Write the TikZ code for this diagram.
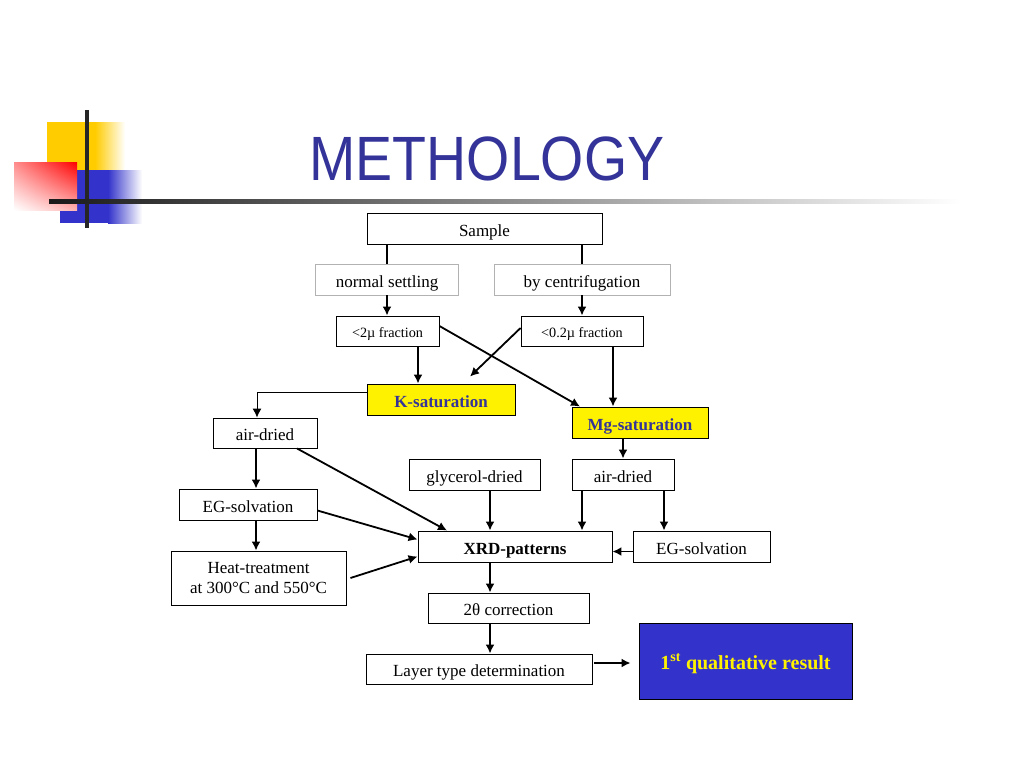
\documentclass[tikz,border=0pt]{standalone}
\usepackage{fontspec}
\setmainfont{Liberation Serif}
\newfontfamily\titlefont[FakeStretch=0.887]{Liberation Sans}
\usetikzlibrary{arrows.meta,shadings}
\definecolor{titleblue}{RGB}{51,51,153}
\definecolor{resblue}{RGB}{51,51,204}
\definecolor{gold}{RGB}{255,204,0}
\definecolor{decoblue}{RGB}{51,51,204}
\tikzset{
  plain/.style={draw, line width=0.9pt, fill=white, inner sep=0pt, align=center,
    font=\fontsize{17}{20.5}\selectfont},
  box/.style={plain, text height=15pt, text depth=0pt},
  graybox/.style={box, draw=black!30},
  smallbox/.style={box, text height=12.5pt, font=\fontsize{14.2}{17}\selectfont},
  satbox/.style={box, fill=yellow, text=titleblue, font=\bfseries\fontsize{17}{20.5}\selectfont},
  resbox/.style={box, text height=17pt, fill=resblue, text=yellow, font=\bfseries\fontsize{20}{24}\selectfont},
  arr/.style={draw, line width=1.8pt, -{Latex[length=9pt,width=9pt]}}
}
\begin{document}
\begin{tikzpicture}[x=1pt,y=-1pt]
        \useasboundingbox[fill=white] (0,0) rectangle (1024,768);

        % corner decoration
        \fill[gold] (47,122) rectangle (95,170);
        \shade[left color=gold, right color=white] (95,122) rectangle (125,170);
        \fill[decoblue] (60,170) rectangle (108,223);
        \shade[left color=decoblue, right color=white] (108,170) rectangle (142,223);
        \shade[upper left=red!45!white, upper right=red, lower left=white, lower right=red!30!white] (14,162) rectangle (77,210);
        \fill[black!85] (85,110) rectangle (89,228);
        \shade[left color=black!90, middle color=black!55, right color=white] (49,199) rectangle (960,203);

        \node[anchor=base, text=titleblue, font=\titlefont\fontsize{62.6}{70}\selectfont] (title) at (487,180) {METHOLOGY};

        \begin{scope}[every node/.style={box}]
          \node (sample) at (484.5,228.5) [minimum width=235pt, minimum height=31pt] {Sample};
          \node[graybox] (ns) at (387,279.5) [minimum width=143pt, minimum height=31pt] {normal settling};
          \node[graybox] (bc) at (582,279.5) [minimum width=176pt, minimum height=31pt] {by centrifugation};
          \node[smallbox] (f2) at (387.5,331) [minimum width=103pt, minimum height=30pt] {<2µ fraction};
          \node[smallbox] (f02) at (582,331) [minimum width=122pt, minimum height=30pt] {<0.2µ fraction};
          \node[satbox] (ks) at (441,399.5) [minimum width=148pt, minimum height=31pt] {K-saturation};
          \node[satbox] (mg) at (640,422.5) [minimum width=136pt, minimum height=31pt] {Mg-saturation};
          \node (ad1) at (265,433) [minimum width=104pt, minimum height=30pt] {air-dried};
          \node (eg1) at (248,504.5) [minimum width=138pt, minimum height=31pt] {EG-solvation};
          \node[plain, text height={}, text depth={}] (heat) at (258.5,578) [minimum width=175pt, minimum height=54pt] {Heat-treatment\\at 300°C and 550°C};
          \node (gly) at (474.5,474.5) [minimum width=131pt, minimum height=31pt] {glycerol-dried};
          \node (ad2) at (623,474.5) [minimum width=102pt, minimum height=31pt] {air-dried};
          \node[font=\bfseries\fontsize{17}{20.5}\selectfont] (xrd) at (515,546.5) [minimum width=194pt, minimum height=31pt] {XRD-patterns};
          \node (eg2) at (701.5,546.5) [minimum width=137pt, minimum height=31pt] {EG-solvation};
          \node (corr) at (508.5,608) [minimum width=161pt, minimum height=30pt] {2θ correction};
          \node (layer) at (479,669) [minimum width=226pt, minimum height=30pt] {Layer type determination};
          \node[resbox] (res) at (745.5,661) [minimum width=213pt, minimum height=76pt] {1\textsuperscript{st} qualitative result};
        \end{scope}

        \begin{scope}[every edge/.style={arr}]
          \path (ns.north |- sample.south) edge[-] (ns.north);
          \path (bc.north |- sample.south) edge[-] (bc.north);
          \path (ns.south) edge (ns.south |- f2.north);
          \path (bc.south) edge (f02.north);
          \path ([xshift=30.5pt]f2.south) edge ([xshift=-23pt]ks.north);
          \path ([yshift=3pt]f02.west) edge ([xshift=29pt,yshift=7pt]ks.north);
          \path ([yshift=5pt]f2.east) edge ([xshift=-60pt]mg.north);
          \path ([xshift=31pt]f02.south) edge ([xshift=-27pt]mg.north);
          \draw[arr, line width=1pt] ([yshift=7pt]ks.west) -| ([xshift=-8pt]ad1.north);
          \path ([xshift=-9pt]ad1.south) edge ([xshift=8pt]eg1.north);
          \path ([xshift=8pt]eg1.south) edge ([xshift=-2.5pt]heat.north);
          \path ([xshift=32pt]ad1.south) edge ([xshift=-68pt]xrd.north);
          \path ([yshift=-6pt]eg1.east) edge ([yshift=7pt]xrd.west);
          \path ([xshift=4pt]heat.east) edge ([yshift=-10pt]xrd.west);
          \path ([xshift=15.5pt]gly.south) edge ([xshift=-25pt]xrd.north);
          \path ([xshift=-17pt]mg.south) edge (ad2.north);
          \path ([xshift=-41pt]ad2.south) edge ([xshift=67pt]xrd.north);
          \path ([xshift=41pt]ad2.south) edge ([xshift=-37.5pt]eg2.north);
          \path ([yshift=-5pt]eg2.west) edge ([yshift=-5pt]xrd.east);
          \path ([xshift=-25pt]xrd.south) edge ([xshift=-18.5pt]corr.north);
          \path ([xshift=-18.5pt]corr.south) edge ([xshift=11pt]layer.north);
          \path ([xshift=2pt,yshift=6pt]layer.east) edge ([xshift=-8pt,yshift=-2pt]res.west);
        \end{scope}

      \end{tikzpicture}
\end{document}
